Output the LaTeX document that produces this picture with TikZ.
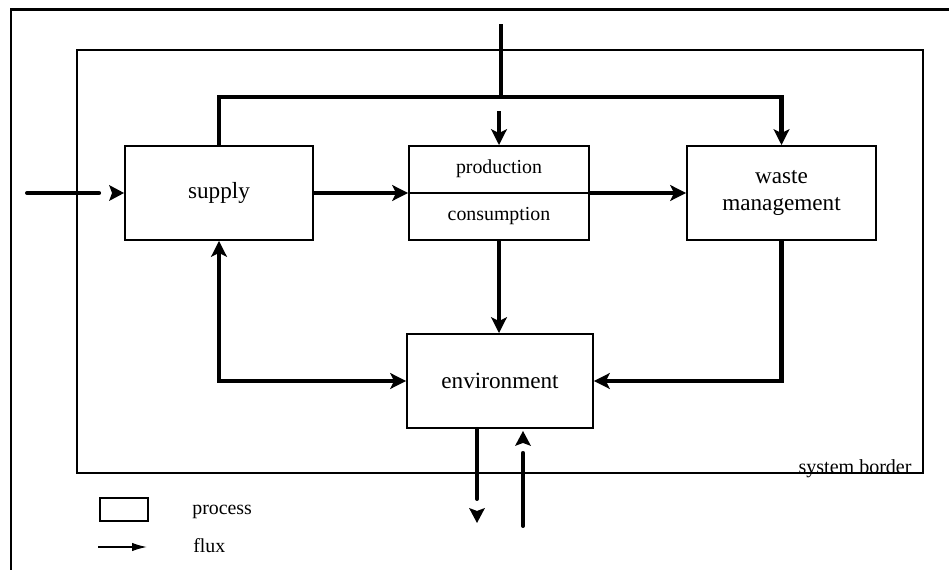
\documentclass[tikz,border=0pt]{standalone}
\usepackage{fontspec}
\setmainfont{Liberation Serif}
\usetikzlibrary{arrows.meta,calc}
\begin{document}
\begin{tikzpicture}[x=0.02cm,y=-0.02cm,
  proc/.style={draw,line width=1.1pt,rectangle,minimum height=1.88cm,inner sep=0pt,
    font=\fontsize{13.2}{15.3}\selectfont,align=center},
  small/.style={font=\fontsize{11.3}{13}\selectfont,inner sep=0pt},
  flow/.style={line width=2.3pt,-{Stealth[length=9pt,width=9pt,inset=2.2pt]}},
  biflow/.style={line width=2.3pt,{Stealth[length=9pt,width=9pt,inset=2.2pt]}-{Stealth[length=9pt,width=9pt,inset=2.2pt]}},
  plainflow/.style={line width=2.3pt},
  gapflow/.style={line width=2.3pt,line cap=round},
  legflow/.style={line width=0.85pt,-{Latex[length=8.5pt,width=4.8pt]}},
  headpic/.pic={\fill (0,0) -- (-15,-8) -- (-12,0) -- (-15,8) -- cycle;}
]
\useasboundingbox (0,0) rectangle (949,570);
% outer frame (top and left edges)
\draw[line width=1.7pt] (11,570) -- (11,10) -- (949,10);
% system border
\node[draw,line width=1.1pt,minimum width=16.92cm,minimum height=8.46cm,inner sep=0pt] (sysb) at (500,261.5) {};
\node[small,anchor=base east,font=\fontsize{11.4}{13}\selectfont] (sysl) at ($(sysb.south east)+(-12,0)$) {system border};
% processes
\node[proc,minimum width=3.76cm] (supply) at (219,193) {supply};
\node[proc,minimum width=3.6cm] (prod) at (499,193) {};
\draw[line width=1.1pt] (prod.west) -- (prod.east);
\node[small] (prodt) at (499,169) {production};
\node[small] (const) at (499,216) {consumption};
\node[proc,minimum width=3.78cm] (waste) at (781.5,193) {waste\\management};
\node[proc,minimum width=3.72cm] (env) at (500,381) {environment};
% top distribution
\coordinate (topin) at ($(prod.north)+(2,-121)$);
\coordinate (jM) at ($(prod.north)+(2,-48)$);
\coordinate (jL) at ($(supply.north)+(0,-48)$);
\coordinate (jR) at ($(waste.north)+(0,-48)$);
\coordinate (pm) at ($(prod.north)+(0,-34)$);
\draw[plainflow] (topin) -- (jM);
\draw[flow] (supply.north) -- (jL) -- (jR) -- (waste.north);
\draw[flow] (pm) -- (prod.north);
% main flows
\draw[flow] (supply.east) -- (prod.west);
\draw[flow] (prod.east) -- (waste.west);
\draw[flow] (prod.south) -- (prod.south |- env.north);
\draw[flow] (waste.south) |- (env.east);
\draw[biflow] (supply.south) |- (env.west);
% detached input to supply
\coordinate (inS) at ($(supply.west)+(-97,0)$);
\coordinate (inE) at ($(supply.west)+(-25,0)$);
\draw[gapflow] (inS) -- (inE);
\pic at (supply.west) {headpic};
% environment exchanges across the border
\coordinate (o1) at ($(env.south)+(-23,0)$);
\coordinate (o2) at ($(env.south)+(-23,70)$);
\draw[gapflow] (o1) -- (o2);
\pic[rotate=-90] at ($(env.south)+(-23,94)$) {headpic};
\coordinate (i1) at ($(env.south)+(23,97)$);
\coordinate (i2) at ($(env.south)+(23,24)$);
\draw[gapflow] (i1) -- (i2);
\pic[rotate=90] at ($(env.south)+(23,2)$) {headpic};
% legend
\node[draw,line width=0.85pt,minimum width=0.96cm,minimum height=0.46cm,inner sep=0pt] (lp) at (124,509.5) {};
\node[small,anchor=base west] (lpt) at (192,514) {process};
\coordinate (fa) at (98,547);
\coordinate (fb) at (147,547);
\draw[legflow] (fa) -- (fb);
\node[small,anchor=base west] (lft) at (193,552) {flux};
\end{tikzpicture}
\end{document}
